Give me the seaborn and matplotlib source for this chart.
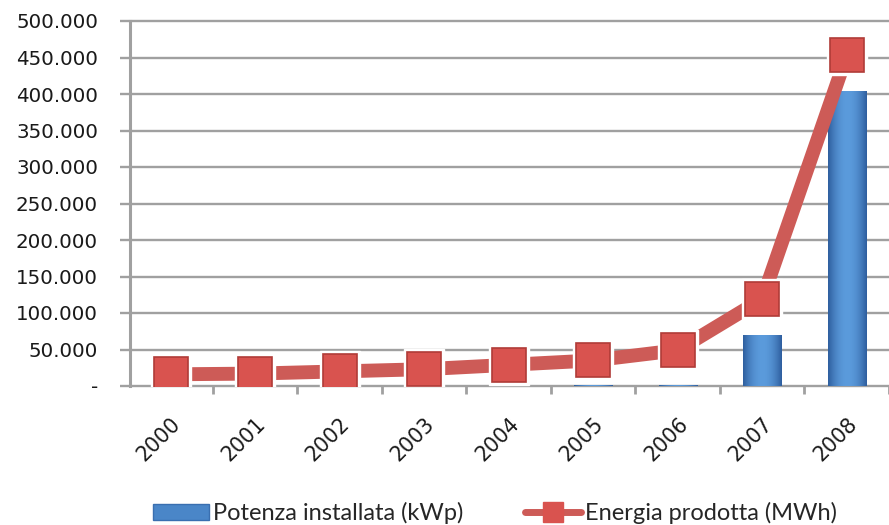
import numpy as np
import pandas as pd
import matplotlib
matplotlib.use("Agg")
import matplotlib.pyplot as plt
import seaborn as sns
from matplotlib.ticker import FuncFormatter, FixedLocator
from matplotlib.patches import Patch
from matplotlib.lines import Line2D

years = ["2000", "2001", "2002", "2003", "2004", "2005", "2006", "2007", "2008"]
potenza = [50, 100, 150, 250, 400, 700, 1500, 70000, 404000]      # kWp
energia = [16000, 17000, 20000, 23000, 29000, 35000, 49000, 119000, 453000]  # MWh
yticks = [0, 50000, 100000, 150000, 200000, 250000, 300000, 350000, 400000, 450000, 500000]
label_bar = "Potenza installata (kWp)"
label_line = "Energia prodotta (MWh)"

sns.set_style("white")
plt.rcParams['font.family'] = ['DejaVu Sans']

df = pd.DataFrame({"anno": years, "potenza": potenza, "energia": energia})

fig = plt.figure(figsize=(8.89, 5.25), dpi=100)
ax = fig.add_axes([130/889, (525-386)/525, (889-130)/889, (386-21)/525])

grid_c = "#A0A0A0"
# gridlines, extended a little left of the axis as tick marks
ax.hlines(yticks, -10/759, 1, transform=ax.get_yaxis_transform(), color=grid_c,
          lw=1.7, zorder=0, clip_on=False)

sns.barplot(data=df, x="anno", y="potenza", color="#4A86C8", width=0.45,
            ax=ax, zorder=2, edgecolor="none", saturation=1)

# horizontal gradient on bars
grad = np.linspace(0, 1, 64)
shade = 1 - 0.55 * (2 * np.abs(grad - 0.5)) ** 2
cmap = matplotlib.colors.LinearSegmentedColormap.from_list("b", ["#2E5E9E", "#5B9BDC"])
for p in ax.patches:
    x0, y0 = p.get_x(), p.get_y()
    w, h = p.get_width(), p.get_height()
    if h <= 0:
        continue
    im = ax.imshow(shade[None, :], extent=[x0, x0 + w, y0, y0 + h], cmap=cmap,
                   vmin=0.45, vmax=1, aspect="auto", zorder=2.5, interpolation="bicubic")
    im.set_clip_path(p)

xpos = np.arange(len(years))
sns.lineplot(x=xpos, y=energia, ax=ax, color="#CD5B57", lw=10, zorder=3, legend=False)
ax.plot(xpos, energia, ls="none", marker="s", markersize=29, color="white", zorder=3.2)
ax.plot(xpos, energia, ls="none", marker="s", markersize=24, markerfacecolor="#D9534F",
        markeredgecolor="#B03C38", markeredgewidth=1.2, zorder=3.5)

ax.set_ylim(0, 500000)
ax.set_xlim(-0.48, 8.40)
ax.yaxis.set_major_locator(FixedLocator(yticks))
ax.yaxis.set_major_formatter(FuncFormatter(
    lambda v, p: "-" if v == 0 else f"{int(v):,}".replace(",", ".")))

for s in ["top", "right", "bottom"]:
    ax.spines[s].set_visible(False)
ax.spines["left"].set_color(grid_c)
ax.spines["left"].set_linewidth(2.2)

ax.tick_params(axis="y", length=0, pad=23, labelsize=14.3, labelcolor="#1a1a1a")
ax.set_xticks(xpos)
ax.set_xticklabels(years, rotation=45, ha="right", rotation_mode="anchor",
                   fontsize=14.8, color="#1a1a1a")
ax.tick_params(axis="x", which="major", length=0, pad=20)
ax.set_xticks(np.arange(len(years)) + 0.5, minor=True)
ax.tick_params(axis="x", which="minor", direction="out", length=6, width=2,
               color=grid_c, bottom=True)
ax.set_xlabel("")
ax.set_ylabel("")

handles = [
    Patch(facecolor="#4A86C8", edgecolor="#3A6FB0"),
    Line2D([0], [0], color="#CD5B57", lw=5, marker="s", markersize=14,
           markerfacecolor="#D9534F", markeredgecolor="#D9534F"),
]
fig.legend(handles, [label_bar, label_line], loc="center", bbox_to_anchor=(0.557, 1 - 513/525),
           ncol=2, frameon=False, handlelength=2.35, handleheight=0.65, columnspacing=2.6,
           handletextpad=0.2, prop={"family": ["Lato", "DejaVu Sans"], "size": 17})

fig.savefig("out.png", dpi=100)
